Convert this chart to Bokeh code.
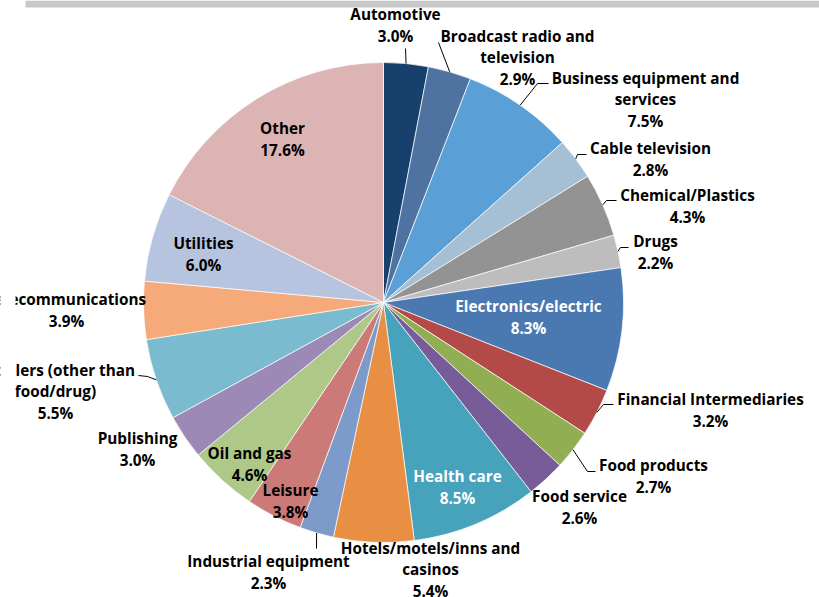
import math
from bokeh.plotting import figure
from bokeh.models import ColumnDataSource, Range1d
from bokeh.core.properties import value
from bokeh.embed import file_html
from bokeh.resources import INLINE

# ---- data ----
categories = ["Automotive", "Broadcast radio and television", "Business equipment and services",
              "Cable television", "Chemical/Plastics", "Drugs", "Electronics/electric",
              "Financial Intermediaries", "Food products", "Food service", "Health care",
              "Hotels/motels/inns and casinos", "Industrial equipment", "Leisure", "Oil and gas",
              "Publishing", "Retailers (other than food/drug)", "Telecommunications", "Utilities", "Other"]
shares = [3.0, 2.9, 7.5, 2.8, 4.3, 2.2, 8.3, 3.2, 2.7, 2.6, 8.5, 5.4, 2.3, 3.8, 4.6, 3.0, 5.5, 3.9, 6.0, 17.6]
label_names = ["Automotive", "Broadcast radio and\ntelevision", "Business equipment and\nservices",
               "Cable television", "Chemical/Plastics", "Drugs", "Electronics/electric",
               "Financial Intermediaries", "Food products", "Food service", "Health care",
               "Hotels/motels/inns and\ncasinos", "Industrial equipment", "Leisure", "Oil and gas",
               "Publishing", "Retailers (other than\nfood/drug)", "Telecommunications", "Utilities", "Other"]

# ---- styles / layout ----
colors = ["#17406D", "#4F73A1", "#5A9FD5", "#A5BFD4", "#939393", "#BDBDBD", "#4A78B0",
          "#B34A47", "#91AF52", "#775C99", "#46A3BB", "#E98F43", "#7C9ACA", "#CB7A77",
          "#AEC888", "#9C89B5", "#7ABBD0", "#F6A979", "#B6C4DF", "#DDB4B4"]
text_colors = ["black"] * 20
text_colors[6] = "white"
text_colors[10] = "white"
# label block centre offsets from pie centre (pixels)
label_offsets = [(12, 277.5), (134, 245), (262, 203), (267, 143.5), (304, 96.5), (272, 50.5),
                 (145, -14.5), (327, -107.5), (270, -173.5), (196, -204.5), (74, -184.5),
                 (47, -267), (-115, -269.5), (-93, -198.5), (-134, -161.5), (-246, -146.5),
                 (-328, -89), (-317, -7.5), (-180, 48.5), (-101, 163.5)]
# leader polyline tail points (offsets from pie centre)
leader_tails = {0: [(22, 254)], 1: [(55, 260)], 2: [(154, 219), (165, 219)],
                3: [(194, 148), (203, 148)], 4: [(223, 102), (233, 102)],
                5: [(237, 55), (245, 55)], 7: [(220, -102), (230, -102)],
                8: [(204, -169), (212, -169)], 12: [(-67, -246)],
                16: [(-236, -74), (-245, -73)]}

W, H = 819, 597
R = 240
cx, cy = 383, H - 302

band_left, band_height = 25, 7   # gray band along the top edge
clip_left = 15                   # labels are clipped at the chart area's left edge

fig = figure(width=W, height=H, x_range=Range1d(0, W), y_range=Range1d(0, H),
             output_backend="svg", toolbar_location=None, min_border=0)
fig.axis.visible = False
fig.grid.visible = False
fig.outline_line_color = None
fig.background_fill_color = "white"

fig.quad(left=band_left, right=W, bottom=H - band_height, top=H,
         fill_color="#C8C8C8", line_color=None)

total = sum(shares)
starts, ends, mids = [], [], []
cum = 0.0
for s in shares:
    a0 = math.pi / 2 - 2 * math.pi * cum / total
    cum += s
    a1 = math.pi / 2 - 2 * math.pi * cum / total
    starts.append(a1)
    ends.append(a0)
    mids.append((a0 + a1) / 2)

src = ColumnDataSource(dict(start=starts, end=ends, color=colors, cat=categories))
fig.wedge(x=cx, y=cy, radius=R, start_angle="start", end_angle="end", direction="anticlock",
          fill_color="color", line_color="white", line_width=0.7, source=src)

# leaders
xs, ys = [], []
for i, tail in leader_tails.items():
    ex = cx + R * math.cos(mids[i])
    ey = cy + R * math.sin(mids[i])
    xs.append([ex] + [cx + t[0] for t in tail])
    ys.append([ey] + [cy + t[1] for t in tail])
fig.multi_line(xs, ys, line_color="black", line_width=1)

texts = [f"{n}\n{s:.1f}%" for n, s in zip(label_names, shares)]
lsrc = ColumnDataSource(dict(x=[cx + o[0] for o in label_offsets],
                             y=[cy + o[1] for o in label_offsets],
                             t=texts, c=text_colors))
fig.text(x="x", y="y", text="t", text_color="c", source=lsrc, text_align="center",
         text_baseline="middle", text_font=value("Open Sans"), text_font_style="bold",
         text_font_size="15.3px", text_line_height=1.07)

# white margin that clips labels at the left edge
fig.quad(left=0, right=clip_left, bottom=0, top=H - band_height,
         fill_color="white", line_color=None)

open("out.html", "w").write(file_html(fig, INLINE))
